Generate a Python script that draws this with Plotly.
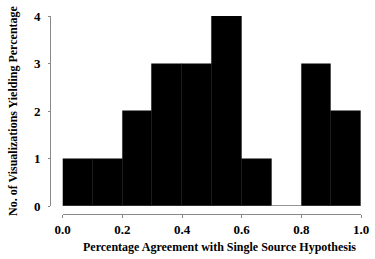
import plotly.graph_objects as go

bin_starts = [0.0, 0.1, 0.2, 0.3, 0.4, 0.5, 0.6, 0.7, 0.8, 0.9]
bin_width = 0.1
counts = [1, 1, 2, 3, 3, 4, 1, 0, 3, 2]
x_ticks = [0.0, 0.2, 0.4, 0.6, 0.8, 1.0]
x_tick_labels = ["0.0", "0.2", "0.4", "0.6", "0.8", "1.0"]
y_ticks = [0, 1, 2, 3, 4]
x_title = "Percentage Agreement with Single Source Hypothesis"
y_title = "No. of Visualizations Yielding Percentage"

W, H = 375, 259
FONT = "Liberation Serif"

centers = [s + bin_width / 2 for s in bin_starts]

fig = go.Figure()
fig.add_trace(go.Bar(
    x=centers, y=counts, width=[bin_width] * len(counts),
    marker=dict(color="black", line=dict(color="#151515", width=0.5)),
    showlegend=False, hoverinfo="x+y",
))
# outline of empty bins (zero-height bars)
for s, c in zip(bin_starts, counts):
    if c == 0:
        fig.add_trace(go.Scatter(
            x=[s, s + bin_width], y=[c, c], mode="lines",
            line=dict(color="#bbb", width=1), showlegend=False,
            hoverinfo="skip", cliponaxis=False,
        ))

def px_x(p):
    return p / W

def px_y(p):
    return (H - p) / H

fig.update_layout(
    width=W, height=H,
    margin=dict(l=0, r=0, t=0, b=0),
    paper_bgcolor="white", plot_bgcolor="white",
    font=dict(family=FONT, size=11, color="black"),
    bargap=0,
    xaxis=dict(
        domain=[px_x(62.7), px_x(361)], range=[0, 1],
        anchor="free", position=px_y(214),
        tickmode="array", tickvals=x_ticks, ticktext=x_tick_labels,
        ticks="outside", ticklen=3, tickcolor="#888", tickwidth=1,
        showline=True, linecolor="#888", linewidth=1,
        showgrid=False, zeroline=False, automargin=False,
        tickfont=dict(family=FONT, size=13, color="black", weight="bold"),
    ),
    yaxis=dict(
        domain=[px_y(206), px_y(16)], range=[0, 4],
        anchor="free", position=px_x(50),
        tickmode="array", tickvals=y_ticks,
        ticks="outside", ticklen=2, tickcolor="#888", tickwidth=1,
        showline=True, linecolor="#888", linewidth=1,
        showgrid=False, zeroline=False, automargin=False,
        tickfont=dict(family=FONT, size=13, color="black", weight="bold"),
        ticklabelstandoff=5,
    ),
    annotations=[
        dict(text=x_title, xref="paper", yref="paper",
             x=px_x(219), y=px_y(247), xanchor="center", yanchor="middle",
             showarrow=False,
             font=dict(family=FONT, size=12, color="black", weight="bold")),
        dict(text=y_title, xref="paper", yref="paper",
             x=px_x(13), y=px_y(111), xanchor="center", yanchor="middle",
             textangle=-90, showarrow=False,
             font=dict(family=FONT, size=12, color="black", weight="bold")),
    ],
)

fig.write_html("out.html", config={"displayModeBar": False},
               post_script="document.body.style.margin='0';")
